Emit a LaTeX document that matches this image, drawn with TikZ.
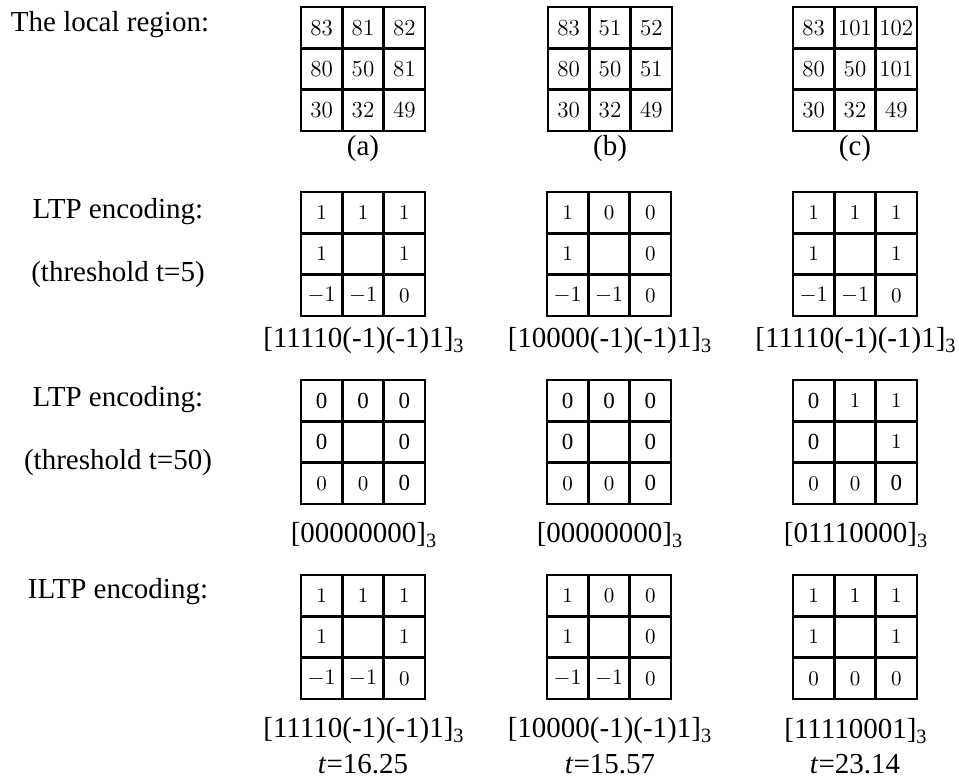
\documentclass[tikz,border=0pt]{standalone}
\usepackage{fontspec}
\newfontfamily\tnr{Liberation Serif}
\newcommand\cellgrid[5]{%
  \draw[gridline] (#2,#3) rectangle ++(124,124)
    (#2+41.33,#3) -- ++(0,124) (#2+82.67,#3) -- ++(0,124)
    (#2,#3+41.33) -- ++(124,0) (#2,#3+82.67) -- ++(124,0);
  \foreach \v [count=\i from 0] in {#5}{%
    \pgfmathtruncatemacro\rr{int(\i/3)}%
    \pgfmathtruncatemacro\cc{mod(\i,3)}%
    \node[#4] (#1-\i) at (#2+\cc*41.33+20.67, #3+\rr*41.33+20.67) {\v};
  }%
}
\newcommand\tz{{\tnr\fontsize{11.5}{13}\selectfont 0}}
\begin{document}
\begin{tikzpicture}[x=0.5pt,y=-0.5pt,
  gridline/.style={line width=1.3pt},
  lab/.style={font=\tnr\fontsize{14.5}{17}\selectfont, inner sep=0pt},
  cA/.style={font=\fontsize{11.5}{13}\selectfont, inner sep=0pt},
  cB/.style={font=\fontsize{10.5}{12}\selectfont, inner sep=0pt}]
\useasboundingbox (0,0) rectangle (959,781);
% left labels
\node[lab] (l0) at (110,25) {The local region:};
\node[lab] (l1) at (118,212) {LTP encoding:};
\node[lab] (l2) at (118,275) {(threshold t=5)};
\node[lab] (l3) at (118,400) {LTP encoding:};
\node[lab] (l4) at (118,463) {(threshold t=50)};
\node[lab] (l5) at (118,592) {ILTP encoding:};
% row 1
\cellgrid{ra}{301}{7}{cA}{83,81,82,80,50,81,30,32,49}
\cellgrid{rb}{548}{7}{cA}{83,51,52,80,50,51,30,32,49}
\cellgrid{rc}{793}{7}{cA}{83,101,102,80,50,101,30,32,49}
\node[lab] (capa) at (363,149) {(a)};
\node[lab] (capb) at (610,149) {(b)};
\node[lab] (capc) at (855,149) {(c)};
% row 2
\cellgrid{sa}{301}{192}{cB}{1,1,1,1,{},1,$-1$,$-1$,0}
\cellgrid{sb}{547}{192}{cB}{1,0,0,1,{},0,$-1$,$-1$,0}
\cellgrid{sc}{793}{192}{cB}{1,1,1,1,{},1,$-1$,$-1$,0}
\node[lab] (sla) at (364,341) {[11110(-1)(-1)1]\textsubscript{3}};
\node[lab] (slb) at (610,341) {[10000(-1)(-1)1]\textsubscript{3}};
\node[lab] (slc) at (856,341) {[11110(-1)(-1)1]\textsubscript{3}};
% row 3
\cellgrid{ta}{301}{380}{cB}{\tz,\tz,\tz,\tz,{},\tz,0,0,\tz}
\cellgrid{tb}{547}{380}{cB}{\tz,\tz,\tz,\tz,{},\tz,0,0,\tz}
\cellgrid{tc}{793}{380}{cB}{\tz,1,1,\tz,{},1,0,0,\tz}
\node[lab] (tla) at (364,535) {[00000000]\textsubscript{3}};
\node[lab] (tlb) at (610,535) {[00000000]\textsubscript{3}};
\node[lab] (tlc) at (856,535) {[01110000]\textsubscript{3}};
% row 4
\cellgrid{ua}{301}{575}{cB}{1,1,1,1,{},1,$-1$,$-1$,0}
\cellgrid{ub}{547}{575}{cB}{1,0,0,1,{},0,$-1$,$-1$,0}
\cellgrid{uc}{793}{575}{cB}{1,1,1,1,{},1,0,0,0}
\node[lab] (ula) at (364,731) {[11110(-1)(-1)1]\textsubscript{3}};
\node[lab] (ulb) at (610,731) {[10000(-1)(-1)1]\textsubscript{3}};
\node[lab] (ulc) at (856,731) {[11110001]\textsubscript{3}};
\node[lab] (uta) at (363,764) {\textit{t}=16.25};
\node[lab] (utb) at (610,764) {\textit{t}=15.57};
\node[lab] (utc) at (855,764) {\textit{t}=23.14};
\end{tikzpicture}
\end{document}
